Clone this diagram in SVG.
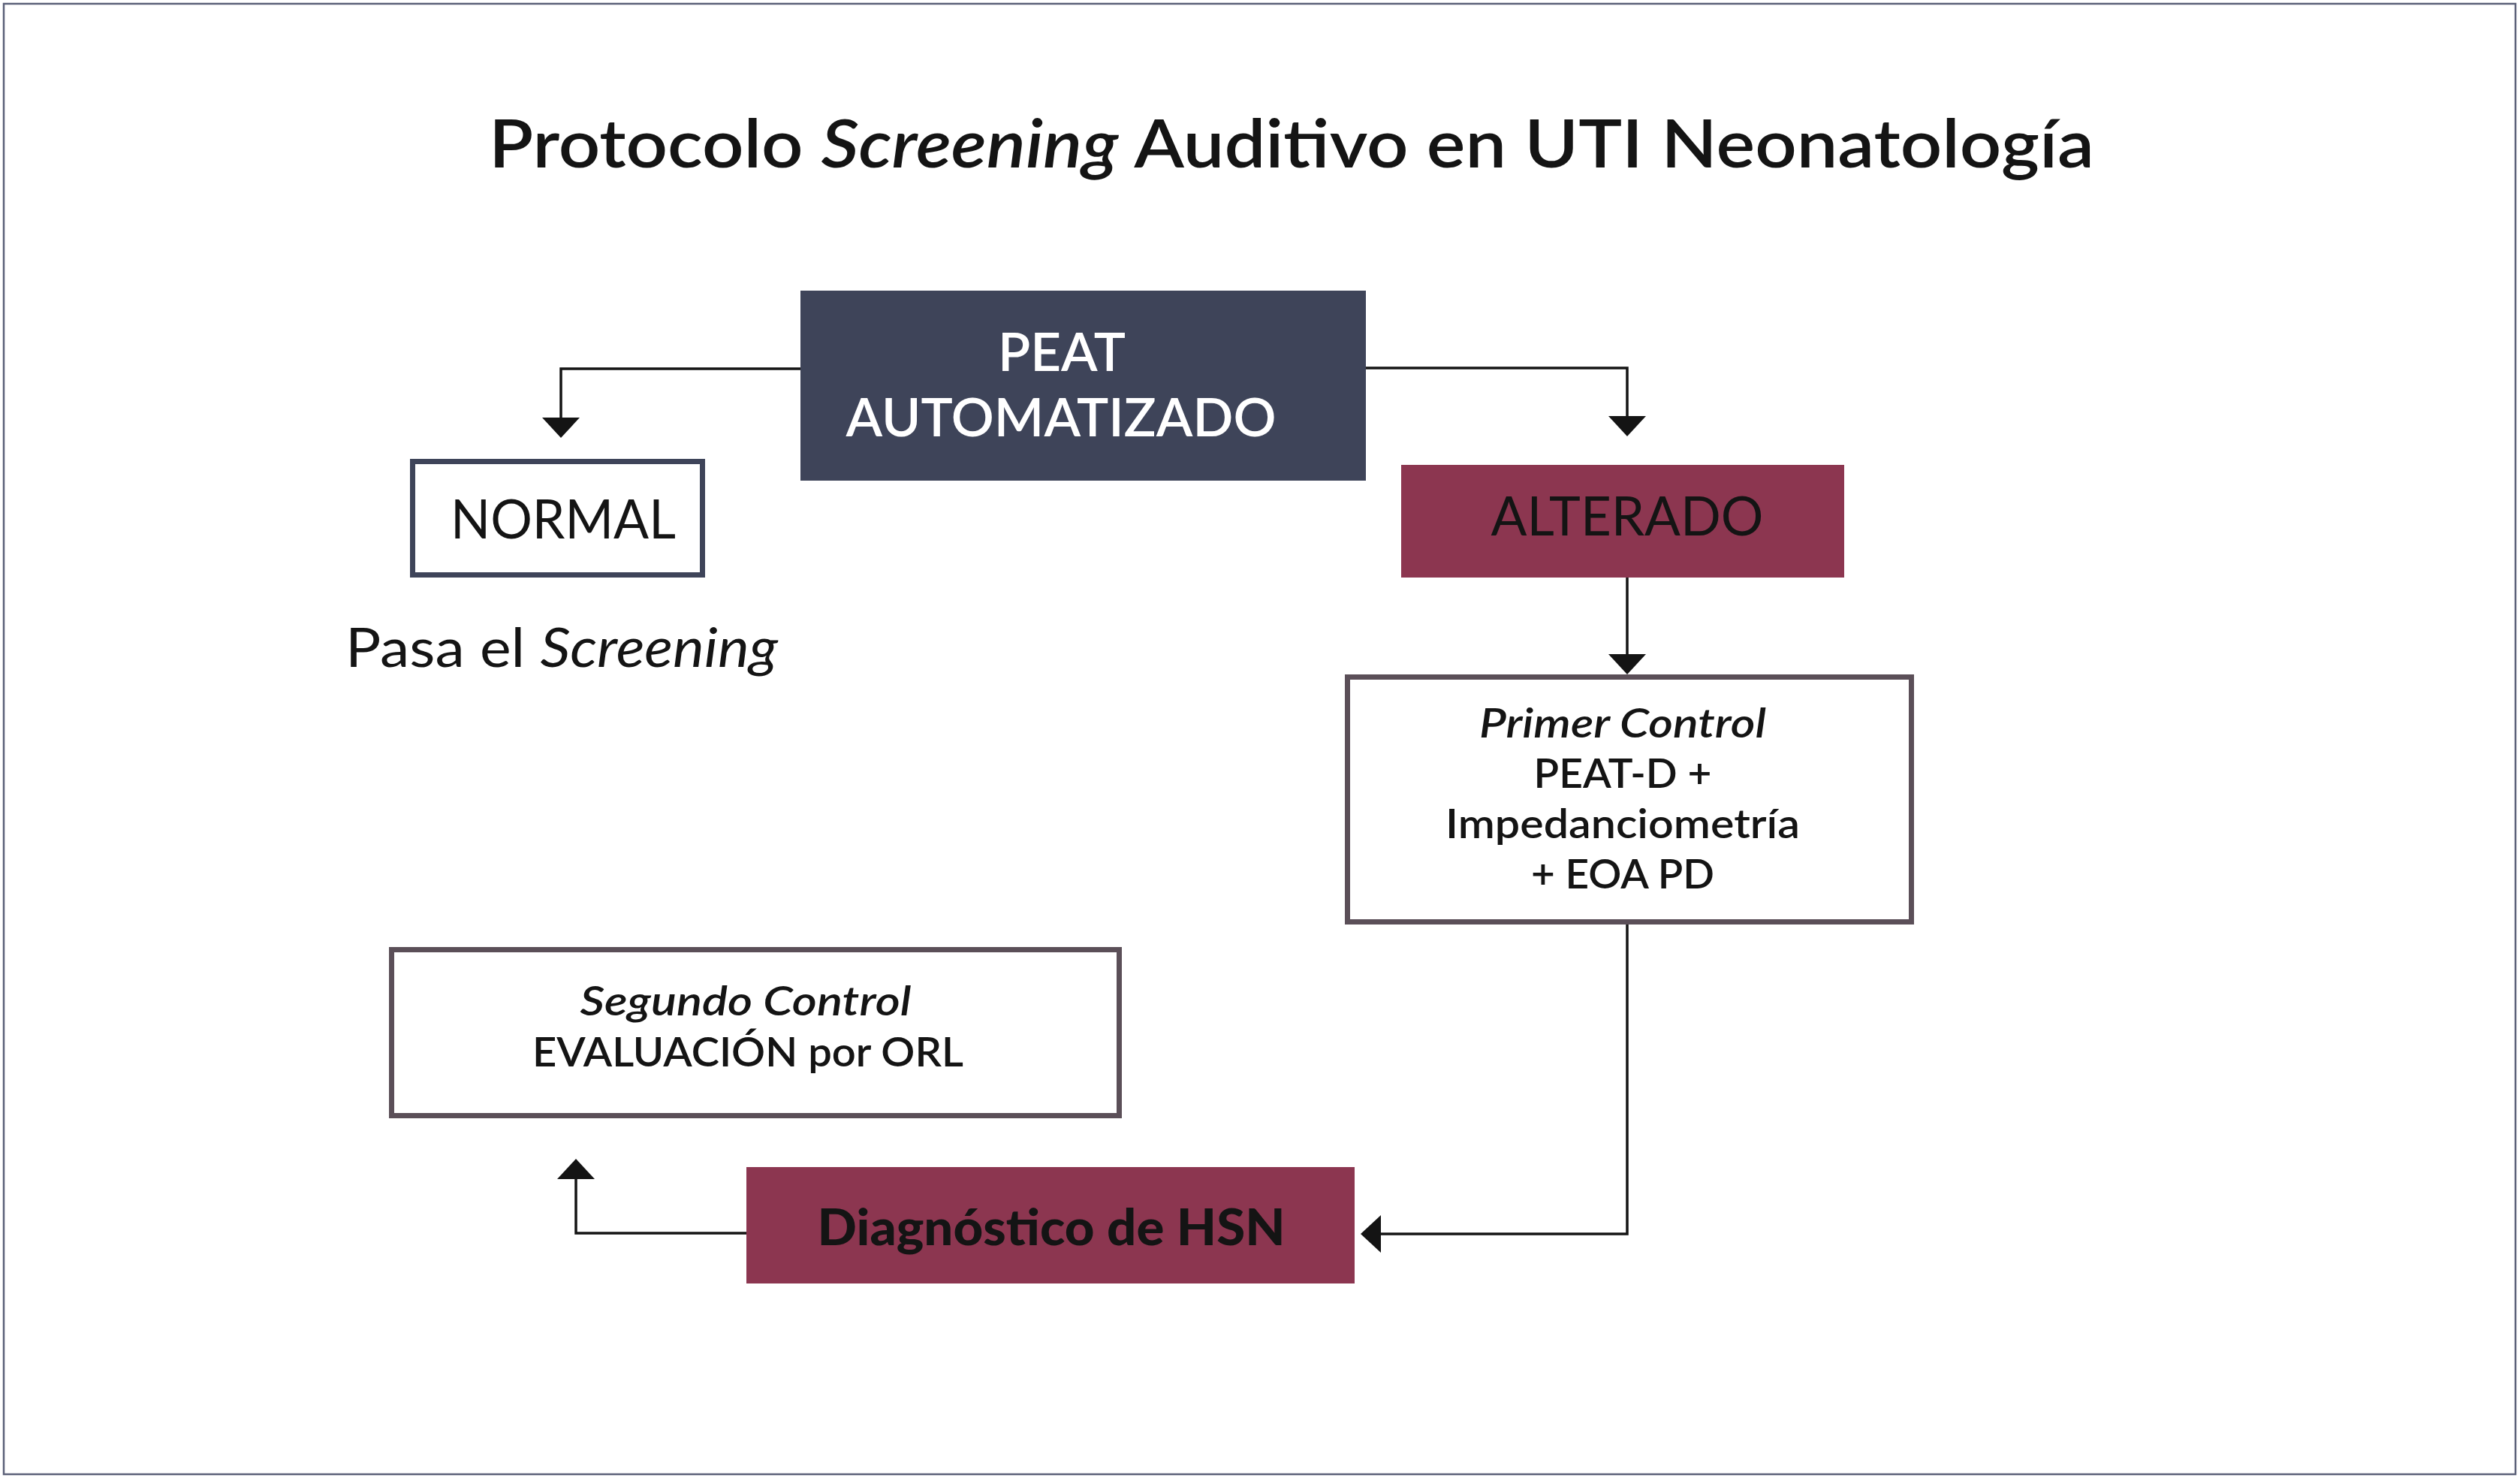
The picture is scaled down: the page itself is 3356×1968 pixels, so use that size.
<svg xmlns="http://www.w3.org/2000/svg" width="3356" height="1968" viewBox="0 0 3356 1968">
<style>
  text { font-family: Lato, "Noto Sans", "Liberation Sans", sans-serif; text-anchor: middle; fill: #141414; }
  .title { font-size: 88px; font-weight: 600; }
  .big { font-size: 72px; font-weight: 400; }
  .peat { font-size: 72px; font-weight: 600; fill: #ffffff; }
  .mid { font-size: 54px; font-weight: 600; }
  .it { font-style: italic; }
  .diag { font-size: 66px; font-weight: 900; }
  .navy { fill: #3e4459; }
  .maroon { fill: #8c3650; }
  .outline { fill: #ffffff; stroke-width: 7; }
  .conn { fill: none; stroke: #141414; stroke-width: 3.5; marker-end: url(#arr); }
</style>
<defs>
  <marker id="arr" markerUnits="userSpaceOnUse" markerWidth="27" markerHeight="50" viewBox="0 0 27 50" refX="17" refY="25" orient="auto">
    <path d="M0,0 L27,25 L0,50 Z" fill="#141414"/>
  </marker>
</defs>
<rect x="0" y="0" width="3356" height="1968" fill="#ffffff"/>
<rect x="5" y="5" width="3345" height="1958" fill="none" stroke="#5c6179" stroke-width="2.5"/>

<text class="title" x="1720" y="223" textLength="2138" lengthAdjust="spacingAndGlyphs">Protocolo <tspan class="it">Screening</tspan> Auditivo en UTI Neonatología</text>

<g id="connectors">
  <path class="conn" d="M1066,491 H747 V573"/>
  <path class="conn" d="M1819,490 H2167 V571"/>
  <path class="conn" d="M2167,769 V888"/>
  <path class="conn" d="M2167,1231 V1643 H1822"/>
  <path class="conn" d="M994,1642 H767 V1553"/>
</g>

<g id="peat">
  <rect class="navy" x="1066" y="387" width="753" height="253"/>
  <text class="peat" x="1414" y="494" textLength="170" lengthAdjust="spacingAndGlyphs">PEAT</text>
  <text class="peat" x="1413" y="581" textLength="573" lengthAdjust="spacingAndGlyphs">AUTOMATIZADO</text>
</g>

<g id="normal">
  <rect class="outline" x="549.5" y="614.5" width="386" height="151" stroke="#3e4459"/>
  <text class="big" x="750" y="717" textLength="300" lengthAdjust="spacingAndGlyphs">NORMAL</text>
</g>

<g id="pasa">
  <text class="big" x="748" y="888" font-size="70" textLength="576" lengthAdjust="spacingAndGlyphs">Pasa el <tspan class="it">Screening</tspan></text>
</g>

<g id="alterado">
  <rect class="maroon" x="1866" y="619" width="590" height="150"/>
  <text class="big" x="2167" y="713" textLength="363" lengthAdjust="spacingAndGlyphs">ALTERADO</text>
</g>

<g id="primer">
  <rect class="outline" x="1794.5" y="901.5" width="751" height="326" stroke="#5b4f58"/>
  <text class="mid it" x="2161" y="982" textLength="382" lengthAdjust="spacingAndGlyphs">Primer Control</text>
  <text class="mid" x="2161" y="1049" textLength="237" lengthAdjust="spacingAndGlyphs">PEAT-D +</text>
  <text class="mid" x="2161" y="1116" textLength="472" lengthAdjust="spacingAndGlyphs">Impedanciometría</text>
  <text class="mid" x="2161" y="1183" textLength="244" lengthAdjust="spacingAndGlyphs">+ EOA PD</text>
</g>

<g id="segundo">
  <rect class="outline" x="521.5" y="1264.5" width="969" height="221" stroke="#5b4f58"/>
  <text class="mid it" x="993" y="1352" textLength="441" lengthAdjust="spacingAndGlyphs">Segundo Control</text>
  <text class="mid" x="996" y="1420" textLength="574" lengthAdjust="spacingAndGlyphs">EVALUACIÓN por ORL</text>
</g>

<g id="diagnostico">
  <rect class="maroon" x="994" y="1554" width="810" height="155"/>
  <text class="diag" x="1400" y="1658" textLength="623" lengthAdjust="spacingAndGlyphs">Diagnóstico de HSN</text>
</g>
</svg>
